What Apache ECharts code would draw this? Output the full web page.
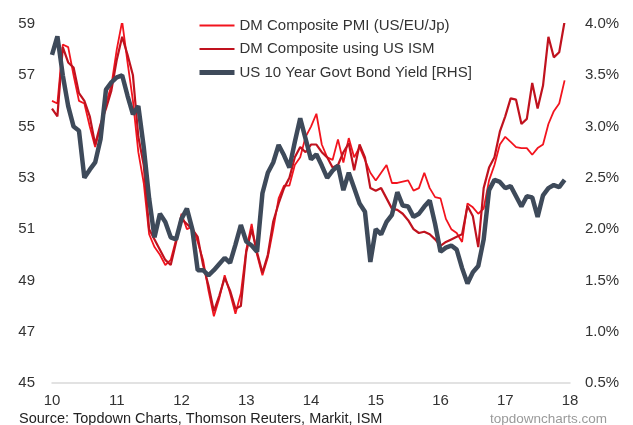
<!DOCTYPE html>
<html>
<head>
<meta charset="utf-8">
<script src="https://cdn.jsdelivr.net/npm/echarts@6/dist/echarts.min.js"></script>
<style>
html,body{margin:0;padding:0;background:#fff;}
#chart{width:633px;height:425px;}
</style>
</head>
<body>
<div id="chart"></div>
<script>
// Monthly data, Jan 2010 .. Dec 2017
const startYear = 2010;
const seriesNames = ['DM Composite PMI (US/EU/Jp)', 'DM Composite using US ISM', 'US 10 Year Govt Bond Yield [RHS]'];
const pmiMarkit = [
  56.0, 55.9, 58.2, 58.1, 57.0, 56.0, 55.9, 55.0, 54.2, 55.0, 55.9, 56.6,
  58.0, 59.1, 57.5, 56.0, 54.0, 52.8, 50.8, 50.3, 50.0, 49.6, 49.8, 50.6,
  51.6, 51.0, 51.1, 50.5, 49.8, 48.6, 47.6, 48.3, 49.2, 48.5, 47.7, 48.5,
  50.2, 51.2, 50.0, 49.2, 49.9, 51.0, 52.2, 52.7, 52.7, 53.5, 53.8, 54.6,
  55.0, 55.5, 54.3, 53.8, 53.7, 54.5, 53.6, 54.55, 53.8, 54.2, 53.7, 53.2,
  52.9, 53.2, 53.5, 52.8, 52.8, 52.85, 52.9, 52.5, 52.6, 53.2, 52.6, 52.25,
  52.2, 51.4, 51.0, 50.85, 50.5, 52.0, 51.85, 51.6, 51.8, 52.9, 53.5, 54.3,
  54.6, 54.4, 54.2, 54.16, 54.16, 53.9, 54.16, 54.3, 55.1, 55.6, 55.9, 56.8
];
const pmiISM = [
  55.7, 55.4, 58.1, 57.5, 57.3, 56.3, 56.0, 55.4, 54.3, 55.1, 55.7, 56.4,
  57.6, 58.5, 57.8, 57.0, 54.6, 53.5, 51.0, 50.6, 50.2, 49.8, 49.6, 50.5,
  51.4, 51.2, 51.0, 50.7, 49.6, 48.8, 47.8, 48.4, 49.1, 48.6, 47.9, 48.0,
  50.1, 51.0, 50.1, 49.3, 50.0, 51.3, 52.0, 52.6, 53.0, 53.8, 54.2, 54.0,
  54.3, 54.3, 54.0, 53.8, 53.4, 53.5, 54.0, 54.35, 53.3, 54.3, 53.8, 52.6,
  52.5, 52.6, 52.2, 51.8, 51.75, 51.6, 51.35, 51.0, 50.85, 50.9, 50.8, 50.6,
  50.35, 50.5, 50.6, 50.7, 50.8, 51.9, 51.5, 50.3, 52.6, 53.4, 53.8, 54.8,
  55.4, 56.1, 56.05, 55.1, 55.3, 56.7, 55.7, 56.6, 58.5, 57.7, 57.9, 59.1
];
const ust10y = [
  3.70, 3.88, 3.50, 3.20, 3.00, 2.96, 2.50, 2.58, 2.65, 2.88, 3.36, 3.43,
  3.48, 3.50, 3.30, 3.12, 3.20, 2.80, 2.30, 1.92, 2.15, 2.07, 1.92, 1.90,
  2.10, 2.20, 2.00, 1.60, 1.60, 1.55, 1.60, 1.66, 1.72, 1.67, 1.85, 2.04,
  1.88, 1.84, 1.78, 2.35, 2.55, 2.65, 2.82, 2.72, 2.60, 2.85, 3.08, 2.88,
  2.68, 2.73, 2.62, 2.50, 2.57, 2.62, 2.38, 2.55, 2.40, 2.25, 2.17, 1.68,
  2.00, 1.95, 2.07, 2.14, 2.36, 2.23, 2.22, 2.12, 2.15, 2.22, 2.28, 2.05,
  1.78, 1.82, 1.84, 1.80, 1.62, 1.47, 1.58, 1.64, 1.90, 2.38, 2.48, 2.46,
  2.40, 2.42, 2.32, 2.22, 2.32, 2.31, 2.12, 2.33, 2.40, 2.43, 2.41, 2.48
];
const leftTicks = {min: 45, max: 59, interval: 2};
const rightTicks = {min: 0.5, max: 4.0, interval: 0.5};
const xTicks = {min: 2010, max: 2018, interval: 1};

const colors = ['#f2141e', '#c0121e', '#3e4a5a'];
const widths = [1.8, 2.2, 4.5];

function toPoints(arr){ return arr.map((v, i) => [startYear + i / 12, v]); }

const chart = echarts.init(document.getElementById('chart'), null, {renderer: 'canvas'});
const labelFont = 'Liberation Sans, Arial, sans-serif';
chart.setOption({
  animation: false,
  backgroundColor: '#ffffff',
  grid: {left: 52, right: 63, top: 24, bottom: 42, containLabel: false},
  legend: {
    orient: 'vertical', left: 192, top: 13,
    itemWidth: 35, itemHeight: 14, itemGap: 8.5,
    itemStyle: {opacity: 0},
    textStyle: {fontSize: 15, color: '#333', fontFamily: labelFont},
    data: seriesNames.map((n, k) => ({name: n, lineStyle: {width: k === 2 ? 5 : 2.2, color: colors[k]}}))
  },
  xAxis: {
    type: 'value', min: xTicks.min, max: xTicks.max, interval: xTicks.interval,
    axisLine: {show: true, lineStyle: {color: '#d9d9d9', width: 1.5}},
    axisTick: {show: false},
    splitLine: {show: false},
    axisLabel: {formatter: v => String(v - 2000), fontSize: 15, color: '#333', margin: 10, fontFamily: labelFont}
  },
  yAxis: [
    {
      type: 'value', min: leftTicks.min, max: leftTicks.max, interval: leftTicks.interval,
      axisLine: {show: false}, axisTick: {show: false}, splitLine: {show: false},
      axisLabel: {fontSize: 15, color: '#333', margin: 17, fontFamily: labelFont}
    },
    {
      type: 'value', min: rightTicks.min, max: rightTicks.max, interval: rightTicks.interval,
      axisLine: {show: false}, axisTick: {show: false}, splitLine: {show: false},
      axisLabel: {fontSize: 15, color: '#333', margin: 15, fontFamily: labelFont, formatter: v => v.toFixed(1) + '%'}
    }
  ],
  series: [
    {
      name: seriesNames[0], type: 'line', yAxisIndex: 0, data: toPoints(pmiMarkit),
      symbol: 'none', z: 2,
      lineStyle: {color: colors[0], width: widths[0]}, itemStyle: {color: colors[0]}
    },
    {
      name: seriesNames[1], type: 'line', yAxisIndex: 0, data: toPoints(pmiISM),
      symbol: 'none', z: 2,
      lineStyle: {color: colors[1], width: widths[1]}, itemStyle: {color: colors[1]}
    },
    {
      name: seriesNames[2], type: 'line', yAxisIndex: 1, data: toPoints(ust10y),
      symbol: 'none', z: 3,
      lineStyle: {color: colors[2], width: widths[2]}, itemStyle: {color: colors[2]}
    }
  ],
  graphic: [
    {type: 'text', left: 19, top: 411, style: {text: 'Source: Topdown Charts, Thomson Reuters, Markit, ISM', fontSize: 14.5, fill: '#222', fontFamily: labelFont}},
    {type: 'text', left: 490, top: 412, style: {text: 'topdowncharts.com', fontSize: 13.5, fill: '#9a9a9a', fontFamily: labelFont}}
  ]
});
</script>
</body>
</html>
